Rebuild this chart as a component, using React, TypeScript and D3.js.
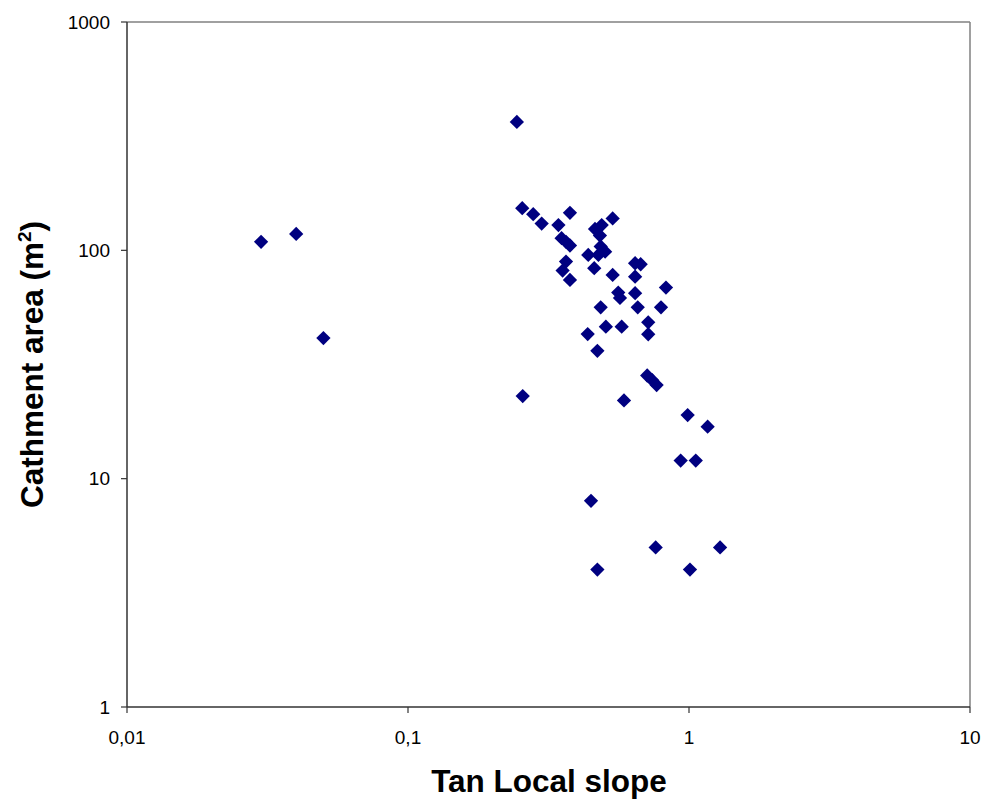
import React from "react";
import * as d3 from "d3";

const slopeValues: number[] = [
  0.030, 0.040, 0.050, 0.244, 0.255, 0.279, 0.299, 0.377, 0.343, 0.352,
  0.365, 0.377, 0.365, 0.355, 0.377, 0.535, 0.463, 0.489, 0.482, 0.485,
  0.503, 0.476, 0.438, 0.460, 0.535, 0.643, 0.673, 0.643, 0.828, 0.560,
  0.568, 0.643, 0.485, 0.657, 0.795, 0.506, 0.576, 0.716, 0.716, 0.436,
  0.472, 0.710, 0.740, 0.767, 0.256, 0.587, 0.989, 1.165, 0.934, 1.057,
  0.448, 0.761, 1.290, 0.472, 1.008,
];
const areaValues: number[] = [
  109, 118, 41.3, 365, 153, 144, 131, 146, 129, 113,
  109, 105, 89.3, 81.5, 74.2, 138, 124, 129, 116, 104,
  98.7, 95.5, 95.5, 83.5, 78, 87.8, 86.9, 76.7, 68.7, 65.3,
  61.9, 64.9, 56.3, 56.3, 56.3, 46.3, 46.3, 48.4, 42.9, 43.0,
  36.3, 28.3, 27, 25.7, 23.0, 22.0, 19.0, 16.9, 12.0, 12.0,
  8.0, 5.0, 5.0, 4.0, 4.0,
];
const xTicks: number[] = [0.01, 0.1, 1, 10];
const xTickLabels: string[] = ["0,01", "0,1", "1", "10"];
const yTicks: number[] = [1, 10, 100, 1000];
const yTickLabels: string[] = ["1", "10", "100", "1000"];

const W = 986;
const H = 805;
const L = 127;
const R = 970;
const T = 22;
const B = 707;

export default function App() {
  const x = d3.scaleLog().domain([0.01, 10]).range([L, R]);
  const y = d3.scaleLog().domain([1, 1000]).range([B, T]);
  const diamond = d3.symbol().type(d3.symbolDiamond2).size(130)();
  const font = "'Liberation Sans', Arial, sans-serif";
  return (
    <svg width={W} height={H} style={{ position: "absolute", left: 0, top: 0, background: "#fff" }}>
      <rect x={0} y={0} width={W} height={H} fill="#fff" />
      <line x1={L} y1={T} x2={R} y2={T} stroke="#808080" strokeWidth={1.5} />
      <line x1={R} y1={T} x2={R} y2={B} stroke="#808080" strokeWidth={1.5} />
      <line x1={L} y1={T} x2={L} y2={B} stroke="#333" strokeWidth={1.5} />
      <line x1={L} y1={B} x2={R} y2={B} stroke="#333" strokeWidth={1.5} />
      {yTicks.map((v, i) => (
        <g key={"y" + i}>
          <line x1={L - 6} x2={L} y1={y(v)} y2={y(v)} stroke="#333" strokeWidth={1.2} />
          <text x={110} y={y(v)} dy="0.35em" textAnchor="end" fontFamily={font} fontSize={19} fill="#000">
            {yTickLabels[i]}
          </text>
        </g>
      ))}
      {xTicks.map((v, i) => (
        <g key={"x" + i}>
          <line x1={x(v)} x2={x(v)} y1={B} y2={B + 6} stroke="#333" strokeWidth={1.2} />
          <text x={x(v)} y={744} textAnchor="middle" fontFamily={font} fontSize={19} fill="#000">
            {xTickLabels[i]}
          </text>
        </g>
      ))}
      {slopeValues.map((s, i) => (
        <path key={"p" + i} d={diamond || ""} transform={`translate(${x(s)},${y(areaValues[i])})`} fill="#000080" />
      ))}
      <text x={549} y={792} textAnchor="middle" fontFamily={font} fontSize={31.5} fontWeight="bold" fill="#000">
        Tan Local slope
      </text>
      <text
        transform={`translate(43,${(T + B) / 2}) rotate(-90)`}
        textAnchor="middle"
        fontFamily={font}
        fontSize={31.5}
        fontWeight="bold"
        fill="#000"
      >
        Cathment area (m<tspan dy="-12" fontSize={19}>2</tspan><tspan dy="12">)</tspan>
      </text>
    </svg>
  );
}
